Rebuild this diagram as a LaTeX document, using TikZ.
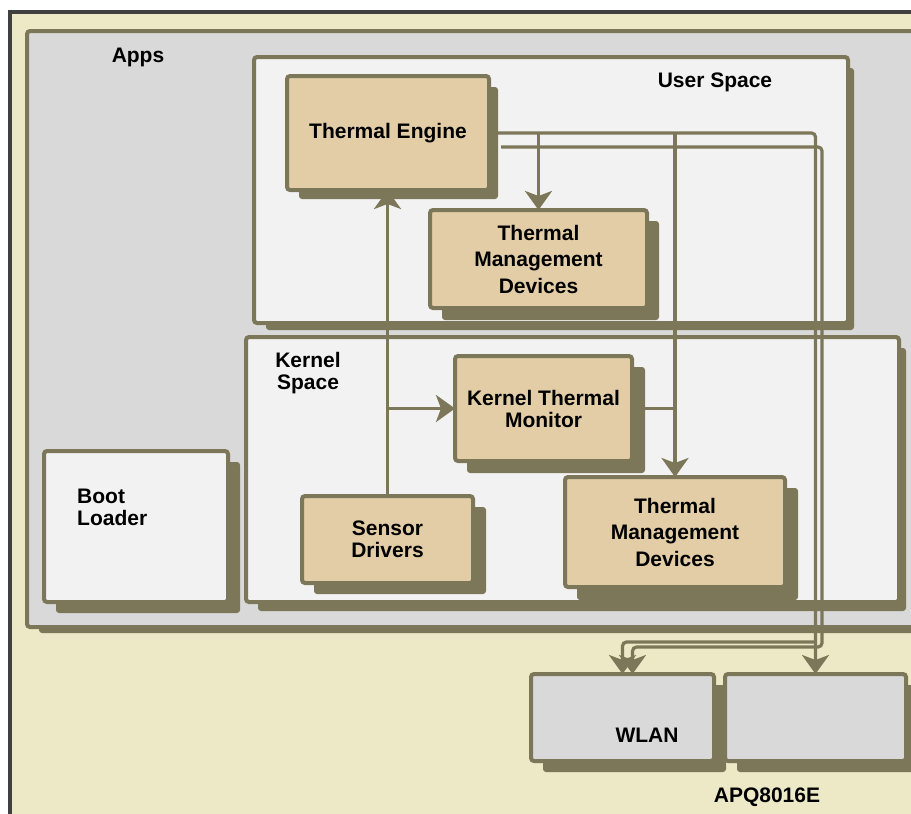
\documentclass[tikz,border=0pt]{standalone}
\usepackage{fontspec}
\setmainfont{Liberation Sans}
\usetikzlibrary{arrows.meta}
\definecolor{cream}{HTML}{EDE8C5}
\definecolor{appsgray}{HTML}{D9D9D9}
\definecolor{paleg}{HTML}{F2F2F2}
\definecolor{tanc}{HTML}{E2CDA6}
\definecolor{olivec}{HTML}{7C7758}
\definecolor{framec}{HTML}{404040}
\tikzset{
  box/.style={draw=olivec, line width=4pt, rounded corners=3pt, inner sep=0pt, outer sep=0pt,
    font=\bfseries\fontsize{21}{22}\selectfont, align=center, text=black},
  tanbox/.style={box, fill=tanc},
  whitebox/.style={box, fill=paleg},
  graybox/.style={box, fill=appsgray},
  shadowfill/.style={fill=olivec, rounded corners=3pt},
  lbl/.style={font=\bfseries\fontsize{21}{22}\selectfont, inner sep=0pt, text=black},
  conn/.style={draw=olivec, line width=3.2pt, rounded corners=4pt},
  arr/.style={conn, -{Stealth[length=19pt,width=27pt,inset=5pt]}},
  tall/.style={font=\bfseries\fontsize{21}{26.5}\selectfont}
}
% name, x0, y0, x1, y1, shadow dx, shadow dy, style, text
\newcommand{\mkbox}[9]{%
  \fill[shadowfill] ({#2+12},{#3+11}) rectangle ({#4+#6},{#5+#7});
  \node[#8, minimum width={(#4-#2)*1pt}, minimum height={(#5-#3)*1pt}] (#1) at ({(#2+#4)/2},{(#3+#5)/2}) {#9};
}
\begin{document}
\begin{tikzpicture}[x=1pt,y=-1pt]
\useasboundingbox (0,0) rectangle (911,814);
\clip (0,0) rectangle (911,814);
\fill[white] (0,0) rectangle (911,814);
% outer frame
\draw[draw=framec, line width=4pt, fill=cream] (10,12) rectangle (980,900);
% containers
\mkbox{apps}{27}{31}{990}{627}{6}{6}{graybox}{}
\mkbox{us}{254}{57}{848}{323}{6}{7}{whitebox}{}
\mkbox{te}{287}{76}{489}{190}{9}{9}{tanbox}{\raisebox{-2pt}{Thermal Engine}}
\mkbox{tmdu}{430}{210}{647}{308}{12}{12}{tanbox,tall}{Thermal\\Management\\Devices}
\mkbox{ks}{246}{337}{899}{602}{7}{9}{whitebox}{}
\mkbox{ktm}{455}{356}{632}{461}{13}{12}{tanbox}{Kernel Thermal\\Monitor}
\mkbox{sd}{302}{496}{473}{583}{13}{11}{tanbox}{Sensor\\Drivers}
\mkbox{tmdk}{565}{477}{785}{587}{13}{13}{tanbox,tall}{Thermal\\Management\\Devices}
\mkbox{boot}{44}{451}{228}{602}{12}{11}{whitebox}{}
\mkbox{wlan}{531}{674}{714}{761}{12}{11}{graybox}{}
\mkbox{box2}{725}{674}{906}{761}{12}{11}{graybox}{}
% labels
\node[lbl, anchor=base] (appsl) at (138,62) {Apps};
\node[lbl, anchor=base] (usl) at (715,87) {User Space};
\node[lbl, align=center] (ksl) at (308,373) {Kernel\\Space};
\node[lbl, align=left, anchor=west] (bootl) at (77,507) {Boot\\Loader};
\node[lbl] (wlanl) at (647,735.5) {WLAN};
\node[lbl, anchor=base] (apql) at (767,802) {APQ8016E};
% connectors
\draw[arr] (sd.north) -- (sd.north |- te.south);
\draw[arr] (sd.north |- ktm.west) -- (ktm.west);
\draw[arr] ([xshift=8pt]te.east) -| (box2.north);
\draw[arr] (tmdu.north |- te.east) -- (tmdu.north);
\draw[arr] (tmdk.north |- te.east) -- (tmdk.north);
\draw[conn] (ktm.east) -- (ktm.east -| tmdk.north);
\coordinate (bturn) at (822,647);
\coordinate (aturn) at (815.5,642);
\draw[arr] ([shift={(12,14)}]te.east) -| (bturn) -| ([xshift=10pt]wlan.north);
\draw[arr] (aturn) -| (wlan.north);
\end{tikzpicture}
\end{document}
